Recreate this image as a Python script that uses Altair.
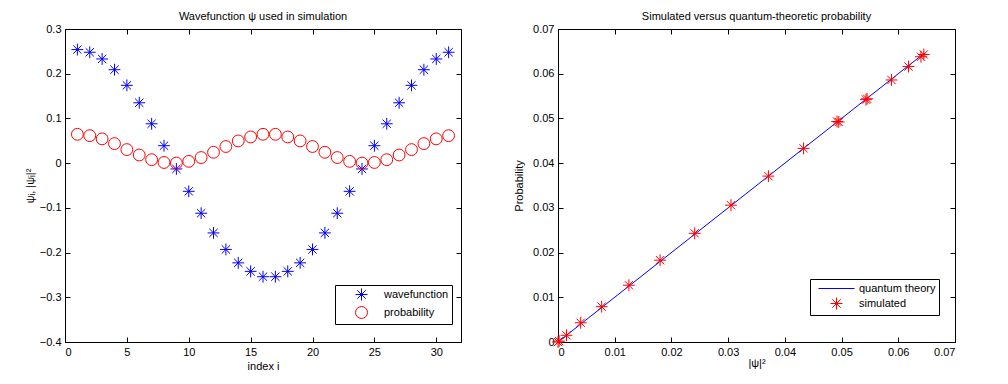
import altair as alt
import pandas as pd

# ---- data ----
index_i = list(range(1, 32))
wavefunction = [0.254, 0.248, 0.233, 0.209, 0.174, 0.135, 0.088, 0.039, -0.013, -0.063,
                -0.112, -0.156, -0.193, -0.223, -0.242, -0.254, -0.254, -0.242, -0.223, -0.193,
                -0.156, -0.112, -0.063, -0.013, 0.039, 0.088, 0.135, 0.174, 0.209, 0.233, 0.248]
probability = [0.0645, 0.0615, 0.0543, 0.0437, 0.0303, 0.0182, 0.0077, 0.0015, 0.0002, 0.0040,
               0.0125, 0.0243, 0.0372, 0.0497, 0.0586, 0.0645, 0.0645, 0.0586, 0.0497, 0.0372,
               0.0243, 0.0125, 0.0040, 0.0002, 0.0015, 0.0077, 0.0182, 0.0303, 0.0437, 0.0543, 0.0615]

theory_prob = [0.0, 0.0002, 0.0015, 0.0040, 0.0077, 0.0125, 0.0180, 0.0241, 0.0305, 0.0371,
               0.0433, 0.0492, 0.0495, 0.0543, 0.0545, 0.0588, 0.0618, 0.0640, 0.0645]
simulated_prob = [0.0, 0.0002, 0.0015, 0.0043, 0.0079, 0.0127, 0.0183, 0.0243, 0.0306, 0.0371,
                  0.0433, 0.0493, 0.0492, 0.0542, 0.0544, 0.0586, 0.0616, 0.0638, 0.0643]

STAR = "M-1,0L1,0M0,-1L0,1M-0.7,-0.7L0.7,0.7M-0.7,0.7L0.7,-0.7"
LINE_SYM = "M-3,0L3,0"
FONT = "Liberation Sans"

left_df = pd.DataFrame(
    [{"i": i, "v": v, "series": "wavefunction"} for i, v in zip(index_i, wavefunction)]
    + [{"i": i, "v": v, "series": "probability"} for i, v in zip(index_i, probability)]
)
line_df = pd.DataFrame({"x": theory_prob, "y": theory_prob, "series": "quantum theory"})
sim_df = pd.DataFrame({"x": theory_prob, "y": simulated_prob, "series": "simulated"})

TICK = alt.ExprRef("-5")
W, H = 396, 313


def legend(x, y):
    return alt.Legend(
        title=None, orient="none", legendX=x, legendY=y,
        strokeColor="black", fillColor="white", padding=3,
        symbolOffset=17, labelOffset=16, rowPadding=1,
        labelFont=FONT, labelFontSize=11, labelColor="black",
        symbolStrokeWidth=1, symbolSize=144,
    )


def frame_axis(orient, vals):
    return alt.Axis(orient=orient, values=vals, labels=False, tickSize=TICK, domain=False,
                    title=None, minExtent=0, maxExtent=0, grid=False)


# ---------------- left panel ----------------
lx = alt.Scale(domain=[0, 32], nice=False, zero=False)
ly = alt.Scale(domain=[-0.4, 0.3], nice=False, zero=False)
lxv = [0, 5, 10, 15, 20, 25, 30]
lyv = [-0.4, -0.3, -0.2, -0.1, 0, 0.1, 0.2, 0.3]

left_pts = alt.Chart(left_df).mark_point(filled=False, strokeWidth=1, size=140, opacity=1).encode(
    x=alt.X("i:Q", scale=lx, title="index i",
            axis=alt.Axis(values=lxv, tickSize=TICK, labelPadding=9,
                          domain=False, grid=False, titlePadding=3)),
    y=alt.Y("v:Q", scale=ly, title="ψᵢ, |ψᵢ|²",
            axis=alt.Axis(values=lyv, tickSize=TICK,
                          labelPadding=9, domain=False, grid=False, format="~g", titlePadding=4)),
    color=alt.Color("series:N", scale=alt.Scale(domain=["wavefunction", "probability"],
                                                range=["#0000ff", "#ff0000"]),
                    legend=legend(270, 256)),
    shape=alt.Shape("series:N", scale=alt.Scale(domain=["wavefunction", "probability"],
                                                range=[STAR, "circle"]),
                    legend=legend(270, 256)),
)
left_frame = alt.Chart(left_df).mark_point(opacity=0).encode(
    x=alt.X("i:Q", scale=lx, axis=frame_axis("top", lxv)),
    y=alt.Y("v:Q", scale=ly, axis=frame_axis("right", lyv)),
)
left = alt.layer(left_pts, left_frame).resolve_axis(x="independent", y="independent").properties(
    width=W, height=H, title="Wavefunction ψ used in simulation")

# ---------------- right panel ----------------
rs = alt.Scale(domain=[0, 0.07], nice=False, zero=False)
rvals = [0, 0.01, 0.02, 0.03, 0.04, 0.05, 0.06, 0.07]
rdom = ["quantum theory", "simulated"]

r_line = alt.Chart(line_df).mark_line(strokeWidth=1).encode(
    x=alt.X("x:Q", scale=rs, title="|ψ|²",
            axis=alt.Axis(values=rvals, tickSize=TICK, labelPadding=9, domain=False, grid=False,
                          format="~g", titlePadding=0)),
    y=alt.Y("y:Q", scale=rs, title="Probability",
            axis=alt.Axis(values=rvals, tickSize=TICK, labelPadding=9, domain=False, grid=False,
                          format="~g", titlePadding=8)),
    color=alt.Color("series:N", scale=alt.Scale(domain=rdom, range=["#0000ff", "#ff0000"]),
                    legend=legend(252, 250)),
)
r_pts = alt.Chart(sim_df).mark_point(filled=False, strokeWidth=1, size=140, opacity=1).encode(
    x=alt.X("x:Q", scale=rs, axis=None),
    y=alt.Y("y:Q", scale=rs, axis=None),
    color=alt.Color("series:N", scale=alt.Scale(domain=rdom, range=["#0000ff", "#ff0000"]),
                    legend=legend(252, 250)),
    shape=alt.Shape("series:N", scale=alt.Scale(domain=rdom, range=[LINE_SYM, STAR]),
                    legend=legend(252, 250)),
)
r_frame = alt.Chart(sim_df).mark_point(opacity=0).encode(
    x=alt.X("x:Q", scale=rs, axis=frame_axis("top", rvals)),
    y=alt.Y("y:Q", scale=rs, axis=frame_axis("right", rvals)),
)
right = alt.layer(r_line, r_pts, r_frame).resolve_axis(x="independent", y="independent").properties(
    width=W + 1, height=H, title="Simulated versus quantum-theoretic probability")

chart = alt.hconcat(left, right, spacing=51).resolve_scale(
    color="independent", shape="independent"
).properties(
    padding={"left": 15, "top": 2, "right": 5, "bottom": 5}
).configure_view(stroke="black", strokeWidth=1).configure_axis(
    labelFont=FONT, labelFontSize=11, labelColor="black", titleFont=FONT, titleFontSize=11,
    titleFontWeight="normal", titleColor="black", tickColor="black", tickWidth=1,
).configure_title(
    font=FONT, fontSize=11, fontWeight="normal", color="black", anchor="middle", offset=1
)

chart.save("out.html", embed_options={"renderer": "svg", "actions": False})
